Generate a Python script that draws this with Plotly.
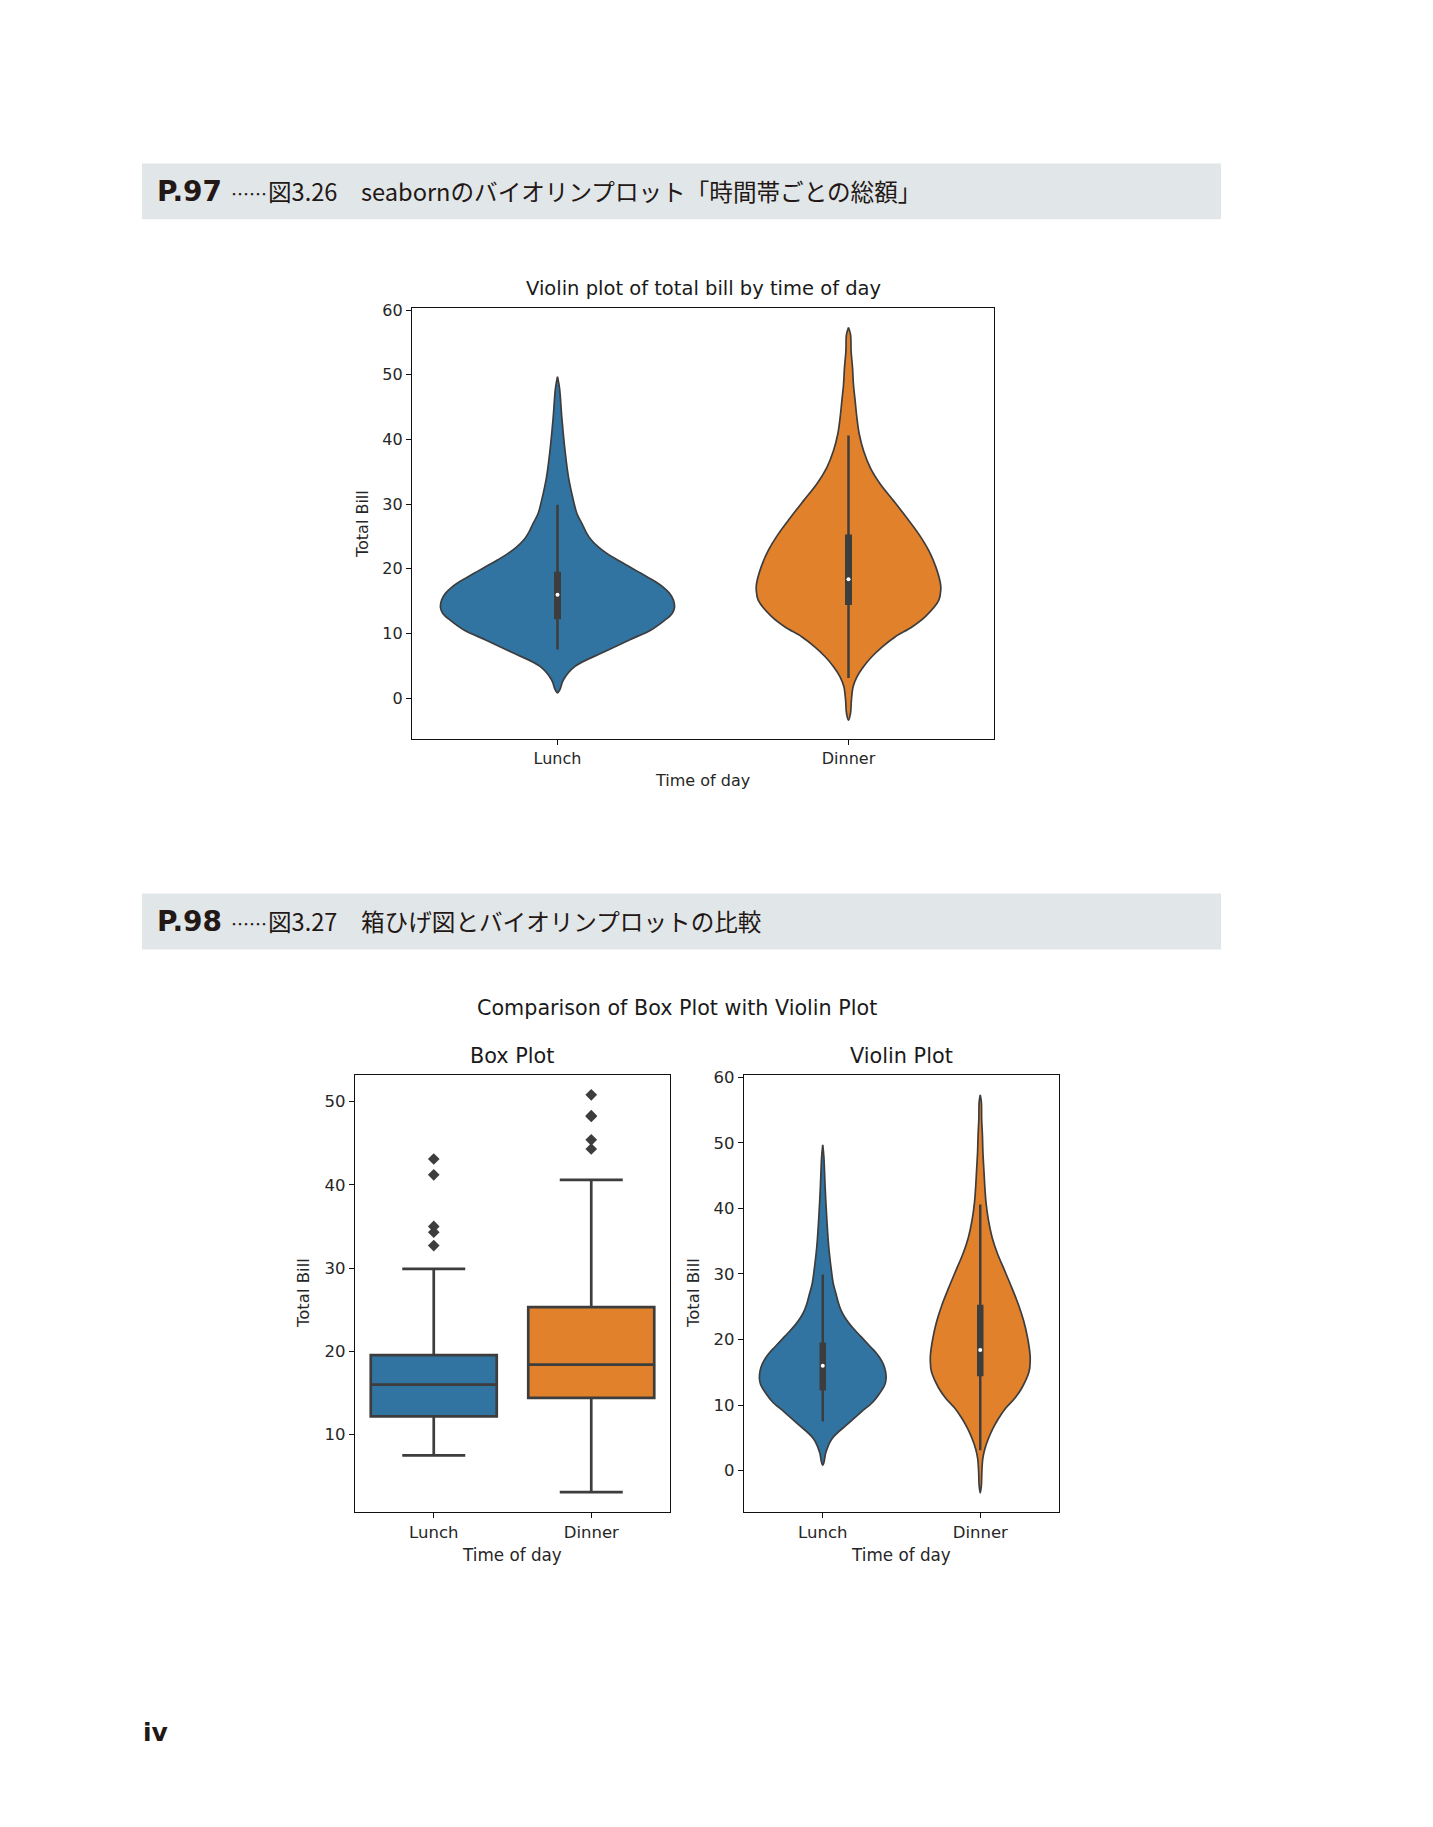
import plotly.graph_objects as go

# ---------------- data ----------------
time_labels = ["Lunch", "Dinner"]
colors = ["#3274A1", "#E1812C"]

# violin density outlines (value, half-width in category units)
lunch_vals = [0.8, 1.3, 2.8, 4.9, 7.2, 9.0, 10.5, 12.1, 13.1, 14.0, 15.2, 16.2, 17.2, 18.0,
              18.7, 19.6, 20.5, 21.4, 22.3, 23.3, 24.4, 25.6, 26.9, 28.5, 30.5, 34.1, 38.2,
              43.3, 47.9, 49.7]
lunch_hw = [0.0, 0.008, 0.02, 0.06, 0.163, 0.247, 0.32, 0.37, 0.394, 0.402, 0.398, 0.385,
            0.362, 0.337, 0.31, 0.275, 0.24, 0.205, 0.172, 0.142, 0.117, 0.099, 0.085, 0.067,
            0.055, 0.038, 0.026, 0.015, 0.007, 0.0]
dinner_vals = [-3.4, -2.3, -0.3, 1.8, 3.3, 4.9, 6.4, 7.9, 9.5, 11.0, 12.6, 15.1, 16.7, 17.7,
               20.3, 22.8, 25.4, 27.9, 30.5, 33.1, 35.6, 38.2, 40.8, 43.3, 45.9, 48.5, 51.0,
               53.6, 56.2, 57.3]
dinner_hw = [0.0, 0.007, 0.010, 0.016, 0.029, 0.052, 0.08, 0.115, 0.161, 0.218, 0.264, 0.31,
             0.317, 0.316, 0.30, 0.276, 0.241, 0.2, 0.155, 0.109, 0.075, 0.052, 0.037, 0.029,
             0.023, 0.017, 0.014, 0.009, 0.007, 0.0]

# box statistics
q1 = [12.2, 14.4]
median = [16.0, 18.4]
q3 = [19.55, 25.3]
lower_whisker = [7.5, 3.1]
upper_whisker = [29.9, 40.6]
lunch_outliers = [32.7, 34.3, 35.0, 41.2, 43.1]
dinner_outliers = [44.3, 45.4, 48.2, 48.3, 50.8]

violin_vals = [lunch_vals, dinner_vals]
violin_hw = [lunch_hw, dinner_hw]
outliers = [lunch_outliers, dinner_outliers]

# ---------------- layout helpers ----------------
W, H = 1433, 1827
def px(x):
    return x / W
def py(y):
    return 1 - y / H

EDGE = "#3d3d3d"
CHART_FONT = "DejaVu Sans"
TEXT = "#231815"

fig = go.Figure()
positions = list(range(len(time_labels)))


def add_violins(xa, ya, box_w, whisk_w, dot_size):
    for i, c in enumerate(positions):
        vals = violin_vals[i]
        hw = violin_hw[i]
        xs = [c - w for w in hw] + [c + w for w in reversed(hw)]
        ys = list(vals) + list(reversed(vals))
        fig.add_trace(go.Scatter(x=xs, y=ys, mode="lines", fill="toself",
                                 fillcolor=colors[i],
                                 line=dict(color=EDGE, width=1.7, shape="spline", smoothing=1.0),
                                 xaxis=xa, yaxis=ya, showlegend=False, hoverinfo="skip"))
        fig.add_trace(go.Scatter(x=[c, c], y=[lower_whisker[i], upper_whisker[i]], mode="lines",
                                 line=dict(color=EDGE, width=whisk_w),
                                 xaxis=xa, yaxis=ya, showlegend=False, hoverinfo="skip"))
        fig.add_trace(go.Scatter(x=[c, c], y=[q1[i], q3[i]], mode="lines",
                                 line=dict(color=EDGE, width=box_w),
                                 xaxis=xa, yaxis=ya, showlegend=False, hoverinfo="skip"))
        fig.add_trace(go.Scatter(x=[c], y=[median[i]], mode="markers",
                                 marker=dict(color="white", size=dot_size, line=dict(width=0)),
                                 xaxis=xa, yaxis=ya, showlegend=False, hoverinfo="skip"))


# chart 1 (x, y)
add_violins("x", "y", 7, 2.5, 4)

# chart 2: box plot (x2, y2)
for i, c in enumerate(positions):
    fig.add_trace(go.Box(x=[c], q1=[q1[i]], median=[median[i]], q3=[q3[i]],
                         lowerfence=[lower_whisker[i]], upperfence=[upper_whisker[i]],
                         width=0.8, whiskerwidth=0.5, fillcolor=colors[i],
                         line=dict(color=EDGE, width=2.7), boxpoints=False,
                         xaxis="x2", yaxis="y2", showlegend=False, hoverinfo="skip"))
    fig.add_trace(go.Scatter(x=[c] * len(outliers[i]), y=outliers[i], mode="markers",
                             marker=dict(symbol="diamond", size=9, color=EDGE),
                             xaxis="x2", yaxis="y2", showlegend=False, hoverinfo="skip"))

# chart 3: violin (x3, y3)
add_violins("x3", "y3", 6.5, 2.5, 4)

axis_common = dict(showline=True, mirror=True, linecolor="#111111", linewidth=1.2,
                   ticks="outside", ticklen=5, tickwidth=1.2, tickcolor="#111111",
                   showgrid=False, zeroline=False, fixedrange=True)

fig.update_layout(
    width=W, height=H, margin=dict(l=0, r=0, t=0, b=0),
    paper_bgcolor="white", plot_bgcolor="white",
    xaxis=dict(domain=[px(412), px(994)], range=[-0.5, 1.5], anchor="y",
               tickvals=positions, ticktext=time_labels,
               tickfont=dict(family=CHART_FONT, size=16, color="#262626"), **axis_common),
    yaxis=dict(domain=[py(735), py(302)], range=[-6.35, 60.35], anchor="x",
               tickvals=[0, 10, 20, 30, 40, 50, 60],
               tickfont=dict(family=CHART_FONT, size=16, color="#262626"), **axis_common),
    xaxis2=dict(domain=[px(355), px(670)], range=[-0.5, 1.5], anchor="y2",
                tickvals=positions, ticktext=time_labels,
                tickfont=dict(family=CHART_FONT, size=16.5, color="#262626"), **axis_common),
    yaxis2=dict(domain=[py(1511), py(1072)], range=[0.68, 53.2], anchor="x2",
                tickvals=[10, 20, 30, 40, 50],
                tickfont=dict(family=CHART_FONT, size=16.5, color="#262626"), **axis_common),
    xaxis3=dict(domain=[px(744), px(1059)], range=[-0.5, 1.5], anchor="y3",
                tickvals=positions, ticktext=time_labels,
                tickfont=dict(family=CHART_FONT, size=16.5, color="#262626"), **axis_common),
    yaxis3=dict(domain=[py(1511), py(1072)], range=[-6.35, 60.35], anchor="x3",
                tickvals=[0, 10, 20, 30, 40, 50, 60],
                tickfont=dict(family=CHART_FONT, size=16.5, color="#262626"), **axis_common),
)

# header bands
for y0, y1 in [(157, 213), (890, 946)]:
    fig.add_shape(type="rect", xref="paper", yref="paper",
                  x0=px(142), x1=px(1221), y0=py(y1), y1=py(y0),
                  fillcolor="#e1e6e9", line=dict(width=0), layer="below")

annotations = []
def ann(text, x, y, size, family, color="#222222", xanchor="center", yanchor="middle", angle=0):
    annotations.append(dict(text=text, x=px(x), y=py(y), xref="paper", yref="paper",
                            showarrow=False, xanchor=xanchor, yanchor=yanchor, textangle=angle,
                            font=dict(size=size, family=family, color=color)))

JP = "Noto Sans CJK JP"
# header 1
ann("<b>P.97</b>", 155, 185, 28, "DejaVu Sans", TEXT, xanchor="left")
ann("……", 229, 187, 18, JP, TEXT, xanchor="left")
ann("図3.26　seabornのバイオリンプロット「時間帯ごとの総額」", 266, 185, 23.6, JP, TEXT, xanchor="left")
# header 2
ann("<b>P.98</b>", 155, 918, 28, "DejaVu Sans", TEXT, xanchor="left")
ann("……", 229, 920, 18, JP, TEXT, xanchor="left")
ann("図3.27　箱ひげ図とバイオリンプロットの比較", 266, 918, 23.6, JP, TEXT, xanchor="left")

# chart 1 texts
ann("Violin plot of total bill by time of day", 703, 283, 19.5, CHART_FONT, "#1a1a1a")
ann("Time of day", 702, 776, 16, CHART_FONT, "#262626")
ann("Total Bill", 362, 519, 16, CHART_FONT, "#262626", angle=-90)

# chart 2/3 texts
ann("Comparison of Box Plot with Violin Plot", 677, 1005, 20.7, CHART_FONT, "#1a1a1a")
ann("Box Plot", 512, 1053, 20.8, CHART_FONT, "#1a1a1a")
ann("Violin Plot", 901, 1053, 20.8, CHART_FONT, "#1a1a1a")
ann("Time of day", 512, 1554, 16.8, CHART_FONT, "#262626")
ann("Time of day", 901, 1554, 16.8, CHART_FONT, "#262626")
ann("Total Bill", 303, 1291, 16.5, CHART_FONT, "#262626", angle=-90)
ann("Total Bill", 693, 1291, 16.5, CHART_FONT, "#262626", angle=-90)

# page number
ann("<b>iv</b>", 141, 1732, 25, "DejaVu Sans", TEXT, xanchor="left")

fig.update_layout(annotations=annotations)

fig.write_html("out.html")
